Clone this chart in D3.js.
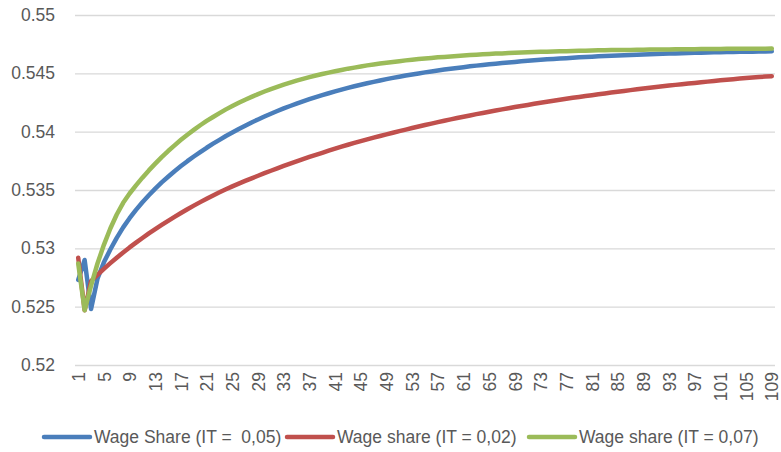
<!DOCTYPE html>
<html>
<head>
<meta charset="utf-8">
<script src="https://cdn.jsdelivr.net/npm/d3@7"></script>
<style>
  body { margin: 0; background: #fff; }
  svg text { font-family: "Liberation Sans", Arial, sans-serif; fill: #595959; }
</style>
</head>
<body>
<svg id="chart" width="781" height="452"></svg>
<script>
/* chart data */
var periods = d3.range(1, 110)
var xTickLabels = d3.range(1, 110, 4)
var yTicks = [0.52, 0.525, 0.53, 0.535, 0.54, 0.545, 0.55]

var wageShare05 = [
  0.5273, 0.5290, 0.5248, 0.5274, 0.5288, 0.5299, 0.5309, 0.5318, 0.53258, 0.53330,
  0.53395, 0.53455, 0.53512, 0.53565, 0.53614, 0.53661, 0.53705, 0.53747, 0.53787, 0.53825,
  0.53862, 0.53897, 0.53930, 0.53963, 0.53993, 0.54023, 0.54051, 0.54079, 0.54105, 0.54130,
  0.54154, 0.54177, 0.54199, 0.54220, 0.54240, 0.54259, 0.54278, 0.54296, 0.54313, 0.54329,
  0.54345, 0.54360, 0.54375, 0.54389, 0.54402, 0.54415, 0.54427, 0.54439, 0.54450, 0.54461,
  0.54471, 0.54481, 0.54490, 0.54499, 0.54508, 0.54516, 0.54524, 0.54532, 0.54539, 0.54546,
  0.54553, 0.54560, 0.54566, 0.54572, 0.54578, 0.54583, 0.54588, 0.54593, 0.54598, 0.54603,
  0.54607, 0.54612, 0.54616, 0.54620, 0.54623, 0.54627, 0.54630, 0.54634, 0.54637, 0.54640,
  0.54643, 0.54646, 0.54648, 0.54651, 0.54653, 0.54656, 0.54658, 0.54660, 0.54662, 0.54664,
  0.54666, 0.54668, 0.54670, 0.54671, 0.54673, 0.54674, 0.54676, 0.54677, 0.54678, 0.54680,
  0.54681, 0.54682, 0.54683, 0.54684, 0.54685, 0.54686, 0.54687, 0.54688, 0.54689
]

var wageShare02 = [
  0.5292, 0.5247, 0.52720, 0.52773, 0.52824, 0.52873, 0.52920, 0.52965, 0.53008, 0.53049,
  0.53089, 0.53128, 0.53165, 0.53201, 0.53236, 0.53270, 0.53303, 0.53335, 0.53366, 0.53396,
  0.53425, 0.53453, 0.53480, 0.53506, 0.53531, 0.53555, 0.53578, 0.53600, 0.53622, 0.53644,
  0.53665, 0.53686, 0.53706, 0.53726, 0.53745, 0.53764, 0.53783, 0.53801, 0.53819, 0.53837,
  0.53855, 0.53872, 0.53888, 0.53904, 0.53919, 0.53934, 0.53949, 0.53963, 0.53977, 0.53991,
  0.54005, 0.54018, 0.54031, 0.54044, 0.54057, 0.54069, 0.54082, 0.54094, 0.54105, 0.54117,
  0.54128, 0.54139, 0.54150, 0.54160, 0.54171, 0.54181, 0.54191, 0.54201, 0.54211, 0.54220,
  0.54229, 0.54239, 0.54248, 0.54256, 0.54265, 0.54273, 0.54282, 0.54290, 0.54298, 0.54306,
  0.54313, 0.54321, 0.54328, 0.54335, 0.54342, 0.54349, 0.54356, 0.54363, 0.54370, 0.54376,
  0.54382, 0.54389, 0.54395, 0.54401, 0.54407, 0.54412, 0.54418, 0.54424, 0.54429, 0.54434,
  0.54440, 0.54445, 0.54450, 0.54455, 0.54460, 0.54464, 0.54468, 0.54472, 0.54476
]

var wageShare07 = [
  0.5287, 0.5247, 0.5268, 0.5287, 0.5303, 0.5317, 0.5329, 0.5339, 0.53470, 0.53540,
  0.53606, 0.53668, 0.53726, 0.53782, 0.53834, 0.53883, 0.53930, 0.53974, 0.54015, 0.54055,
  0.54092, 0.54126, 0.54159, 0.54191, 0.54220, 0.54248, 0.54274, 0.54298, 0.54322, 0.54344,
  0.54365, 0.54384, 0.54403, 0.54420, 0.54437, 0.54452, 0.54467, 0.54481, 0.54494, 0.54506,
  0.54518, 0.54529, 0.54540, 0.54549, 0.54559, 0.54568, 0.54576, 0.54584, 0.54591, 0.54598,
  0.54604, 0.54611, 0.54617, 0.54622, 0.54627, 0.54632, 0.54637, 0.54641, 0.54645, 0.54649,
  0.54653, 0.54657, 0.54660, 0.54663, 0.54666, 0.54669, 0.54671, 0.54674, 0.54676, 0.54678,
  0.54680, 0.54682, 0.54684, 0.54686, 0.54687, 0.54689, 0.54690, 0.54692, 0.54693, 0.54694,
  0.54696, 0.54697, 0.54698, 0.54699, 0.54700, 0.54701, 0.54701, 0.54702, 0.54703, 0.54704,
  0.54704, 0.54705, 0.54705, 0.54706, 0.54707, 0.54707, 0.54707, 0.54708, 0.54708, 0.54709,
  0.54709, 0.54710, 0.54710, 0.54710, 0.54711, 0.54711, 0.54711, 0.54711, 0.54712
]

var seriesNames = ["Wage Share (IT =  0,05)", "Wage share (IT = 0,02)", "Wage share (IT = 0,07)"]
var seriesColors = ["#4a7ebb", "#c0504d", "#9bbb59"]
var seriesValues = [wageShare05, wageShare02, wageShare07]

var margin = { top: 15, right: 6, bottom: 87, left: 75 }
var width = 781 - margin.left - margin.right
var height = 452 - margin.top - margin.bottom

var svg = d3.select("#chart")
var g = svg.append("g")
    .attr("transform", "translate(" + margin.left + "," + margin.top + ")")

var x = d3.scalePoint().domain(periods).range([0, width]).padding(0.5)
var y = d3.scaleLinear().domain([0.52, 0.55]).range([height, 0])

// gridlines + y labels
var yAxis = d3.axisLeft(y)
    .tickValues(yTicks)
    .tickSize(-width)
    .tickPadding(20)
    .tickFormat(function (d) { return String(+d.toFixed(3)) })
g.append("g")
    .attr("class", "y axis")
    .call(yAxis)
    .call(function (a) {
      a.select(".domain").remove()
      a.selectAll("line").attr("stroke", "#d9d9d9").attr("stroke-width", 1.3)
      a.selectAll("text").style("font-size", "17.5px").attr("fill", "#595959")
    })

// x labels, rotated
var xAxis = d3.axisBottom(x)
    .tickValues(xTickLabels)
    .tickSize(0)
    .tickPadding(0)
g.append("g")
    .attr("class", "x axis")
    .attr("transform", "translate(0," + height + ")")
    .call(xAxis)
    .call(function (a) {
      a.select(".domain").remove()
      a.selectAll("text")
          .style("font-size", "17.5px")
          .attr("fill", "#595959")
          .attr("text-anchor", "end")
          .attr("transform", "rotate(-90)")
          .attr("x", -7)
          .attr("y", 0)
          .attr("dy", "0.35em")
    })

// series lines
var valueline = d3.line()
    .x(function (d, i) { return x(periods[i]) })
    .y(function (d) { return y(d) })

seriesValues.forEach(function (vals, i) {
  g.append("path")
      .attr("d", valueline(vals))
      .attr("fill", "none")
      .attr("stroke", seriesColors[i])
      .attr("stroke-width", 4.5)
      .attr("stroke-linecap", "round")
      .attr("stroke-linejoin", "round")
})

// legend
var legendX = [44, 287, 529]
var legend = svg.append("g").attr("transform", "translate(0,437)")
seriesNames.forEach(function (name, i) {
  legend.append("line")
      .attr("x1", legendX[i]).attr("x2", legendX[i] + 46)
      .attr("y1", 0).attr("y2", 0)
      .attr("stroke", seriesColors[i])
      .attr("stroke-width", 4.5)
      .attr("stroke-linecap", "round")
  legend.append("text")
      .attr("x", legendX[i] + 50)
      .attr("y", 0)
      .attr("dy", "0.35em")
      .style("font-size", "17.5px")
      .style("white-space", "pre")
      .text(name)
})
</script>
</body>
</html>
